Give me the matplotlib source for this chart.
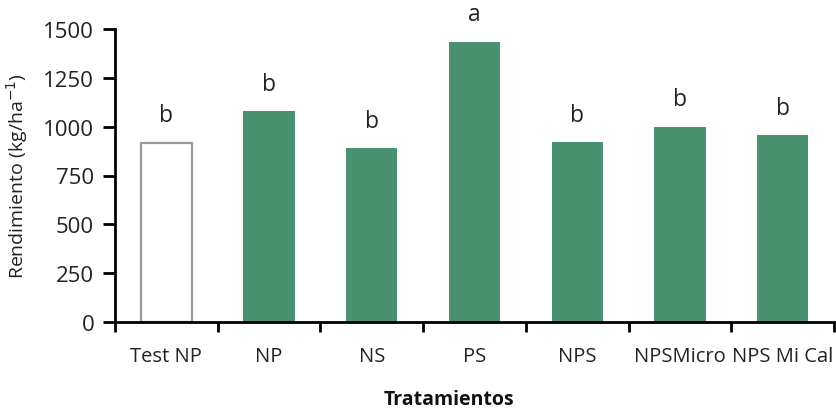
import matplotlib
matplotlib.use("Agg")
import matplotlib.pyplot as plt
import numpy as np

categories = ["Test NP", "NP", "NS", "PS", "NPS", "NPSMicro", "NPS Mi Cal"]
values = [918, 1080, 890, 1435, 920, 1000, 955]
letters = ["b", "b", "b", "a", "b", "b", "b"]
yticks = [0, 250, 500, 750, 1000, 1250, 1500]

green = "#4a9170"
plt.rcParams['font.family'] = ['Open Sans', 'DejaVu Sans']

fig = plt.figure(figsize=(8.36, 4.14), dpi=100)
ax = fig.add_axes([115/836, 1-323/414, (834-115)/836, (323-30)/414])

x = np.arange(len(categories)) + 0.5
for i, (xi, v) in enumerate(zip(x, values)):
    if i == 0:
        ax.bar(xi, v, width=0.5, color="white", edgecolor="#999999", linewidth=1.6, zorder=2)
    else:
        ax.bar(xi, v, width=0.5, color=green, edgecolor="none", zorder=2)
    ax.annotate(letters[i], (xi, v), xytext=(0, 11), textcoords="offset points",
                ha="center", va="bottom", fontsize=16.5, color="#222222")

ax.set_xlim(0, len(categories))
ax.set_ylim(0, 1500)
ax.set_yticks(yticks)
ax.set_yticklabels([str(t) for t in yticks], fontsize=16, color="#222222")
ax.set_xticks(np.arange(len(categories) + 1))
ax.set_xticklabels([])
ax.set_xticks(x, minor=True)
ax.set_xticklabels(categories, minor=True, fontsize=14.5, color="#222222")
ax.tick_params(axis="x", which="minor", length=0, pad=17)
ax.tick_params(axis="x", which="major", length=7, width=2, direction="out")
ax.tick_params(axis="y", length=9, width=2, direction="out", pad=6)

for s in ["top", "right"]:
    ax.spines[s].set_visible(False)
for s in ["left", "bottom"]:
    ax.spines[s].set_linewidth(2)

ax.set_ylabel("Rendimiento (kg/ha$^{-1}$)", fontsize=14, color="#222222")
ax.yaxis.set_label_coords(-0.118, 0.5)
fig.text(449/836, 1-400/414, "Tratamientos", ha="center", va="center",
         fontsize=14, fontweight="bold", color="#111111")

fig.savefig("out.png", dpi=100)
